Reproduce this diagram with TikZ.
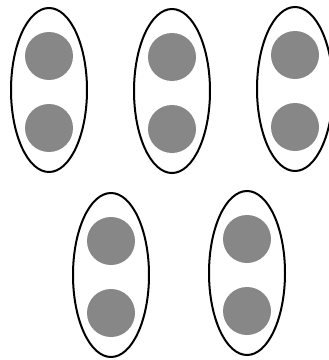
\documentclass[tikz,border=0pt]{standalone}
\usetikzlibrary{shapes.geometric}
\definecolor{discgray}{RGB}{135,135,135}
\begin{document}
\begin{tikzpicture}[x=0.3mm, y=-0.3mm,
    pairbox/.style={draw, line width=0.6mm, ellipse, minimum width=22.8mm, minimum height=49.2mm, inner sep=0pt},
    disc/.style={circle, fill=discgray, minimum size=14.4mm, inner sep=0pt}]
    \useasboundingbox (0,0) rectangle (328,360);

    % groups of two
    \foreach \name/\cx/\cy in {a/49/90, b/172/91, c/295/89, d/111/275, e/247/273} {
        \node[pairbox] (\name) at (\cx,\cy) {};
        \node[disc] (\name-top) at (\cx,\cy-34) {};
        \node[disc] (\name-bot) at (\cx,\cy+38) {};
    }
\end{tikzpicture}
\end{document}
